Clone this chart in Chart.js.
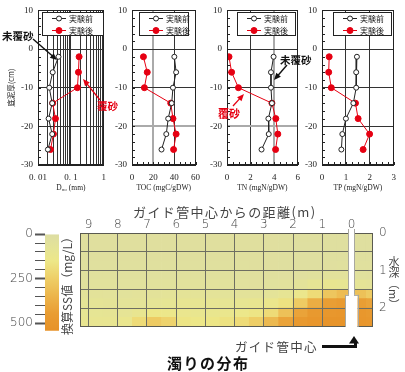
<!DOCTYPE html>
<html lang="ja"><head><meta charset="utf-8">
<script src="https://cdn.jsdelivr.net/npm/chart.js@4.4.1/dist/chart.umd.min.js"></script>
<style>
html,body{margin:0;padding:0;background:#fff}
body{position:relative;width:405px;height:372px;overflow:hidden;font-family:"Noto Sans CJK JP",sans-serif}
canvas{position:absolute;top:0}
.t{position:absolute;white-space:nowrap;line-height:1}
</style></head><body>
<canvas id="p1" width="113" height="198" style="left:0px"></canvas>
<canvas id="p2" width="101" height="198" style="left:106px"></canvas>
<canvas id="p3" width="106" height="198" style="left:201px"></canvas>
<canvas id="p4" width="103" height="198" style="left:300px"></canvas>
<canvas id="cb" width="70" height="115" style="left:0px;top:225px"></canvas>
<canvas id="hm" width="335" height="145" style="left:70px;top:195px"></canvas>
<svg id="ov" width="405" height="372" style="position:absolute;left:0;top:0;pointer-events:none"></svg>

<div class="t" style="left:2px;top:31px;font-size:10.5px;font-weight:bold;color:#111">未覆砂</div>
<div class="t" style="left:97px;top:101px;font-size:10.5px;font-weight:bold;color:#e60012">覆砂</div>
<div class="t" style="left:280px;top:55px;font-size:10.5px;font-weight:bold;color:#111">未覆砂</div>
<div class="t" style="left:218px;top:108px;font-size:11px;font-weight:bold;color:#e60012">覆砂</div>

<div class="t" style="left:133px;top:205px;font-size:13px;color:#444;letter-spacing:1.4px">ガイド管中心からの距離(m)</div>
<div class="t" style="left:388px;top:256px;font-size:11px;color:#444;writing-mode:vertical-rl">水深（m）</div>
<div class="t" style="left:12px;top:277px;width:110px;text-align:center;font-size:12px;color:#444;transform:rotate(-90deg);transform-origin:55px 6px;">換算SS値（mg/L）</div>
<div class="t" style="left:235px;top:341px;font-size:12.5px;color:#444;letter-spacing:1.3px">ガイド管中心</div>
<div class="t" style="left:167px;top:355px;font-size:15px;font-weight:bold;color:#111;letter-spacing:1.5px">濁りの分布</div>

<script>
// ---------- data: sediment profiles ----------
const depths = [-2, -6, -10, -14, -18, -22, -26];
const seriesLabels = ['実験前', '実験後'];
const d50Before = [0.042, 0.028, 0.022, 0.027, 0.021, 0.027, 0.020];
const d50After  = [0.178, 0.170, 0.158, 0.028, 0.034, 0.0295, 0.024];
const tocBefore = [40.0, 41.7, 38.7, 37.5, 34.2, 32.4, 27.9];
const tocAfter  = [10.8, 14.4, 11.7, 36.6, 38.7, 41.7, 39.3];
const tnBefore  = [3.95, 3.73, 3.73, 3.81, 3.51, 3.54, 2.93];
const tnAfter   = [0.17, 0.39, 0.97, 3.81, 4.14, 4.31, 4.12];
const tpBefore  = [1.46, 1.43, 1.43, 1.31, 1.00, 0.85, 0.81];
const tpAfter   = [0.30, 0.28, 0.39, 1.40, 1.51, 1.99, 1.72];

const depthTicks = [10, 0, -10, -20, -30];
const d50Ticks = [0.01,0.02,0.03,0.04,0.05,0.06,0.07,0.08,0.09,0.1,0.2,0.3,0.4,0.5,0.6,0.7,0.8,0.9,1];
const d50TickLabels = {0.01: '0. 01', 0.1: '0. 1', 1: '1'};
const tocTicks = [0, 20, 40, 60];
const tnTicks = [0, 2, 4, 6];
const tpTicks = [0, 1, 2, 3];
const xTitles = ['D₅₀ (mm)', 'TOC (mgC/gDW)', 'TN (mgN/gDW)', 'TP (mgN/gDW)'];
const yTitle = '底泥厚(cm)';

// ---------- data: turbidity (SS) distribution ----------
const distTicks = [0,1,2,3,4,5,6,7,8,9];
const waterDepthGrid = [0,0.5,1,1.5,2,2.5];
const distCenters = [9.25,8.75,8.25,7.75,7.25,6.75,6.25,5.75,5.25,4.75,4.25,3.75,3.25,2.75,2.25,1.75,1.25,0.75,0.25,-0.25,-0.75];
const depthEdges = [0,0.25,0.5,0.75,1.0,1.25,1.5,1.75,2.0,2.25,2.5];
const ssGrid = [
  [28,28,28,28,28,28,28,28,28,28,28,28,28,26,24,22,22,24,24,22,22],
  [28,28,28,28,28,28,28,28,28,28,28,28,28,26,22,20,20,22,24,22,22],
  [28,28,28,28,28,28,28,28,28,28,28,28,28,26,22,18,18,22,24,24,24],
  [30,30,30,30,30,30,30,30,30,30,30,30,28,26,22,18,20,26,30,30,30],
  [34,34,34,32,32,32,32,34,34,34,34,32,30,28,26,26,34,50,50,40,36],
  [44,44,42,40,40,42,44,46,48,46,44,40,38,40,46,60,90,110,100,80,70],
  [60,60,56,52,55,60,66,72,74,70,64,60,62,70,90,130,200,280,320,300,260],
  [80,78,74,66,70,80,92,100,100,96,92,98,110,130,170,260,380,440,460,440,420],
  [96,92,90,86,110,150,140,120,116,118,126,140,160,200,300,420,480,500,510,500,480],
  [110,106,104,120,200,260,230,160,150,156,170,200,250,330,420,480,510,520,520,510,500]
];
const ssMax = 543;
const colorbarTicks = [0,50,100,150,200,250,300,350,400,450,500];
const colorbarLabels = {0:'0', 250:'250', 500:'500'};
const colorStopValues = [0, 80, 150, 250, 350, 450, 543];
const colorStopRGB = [[221,221,163],[229,228,150],[237,231,136],[238,206,102],[236,180,74],[233,156,50],[231,146,40]];
const pipe = {center: 0, narrowHalf: 0.09, wideHalf: 0.2, wideTop: 1.65};

const RED = '#e60012';
const DARK = '#222';

function ssColor(v) {
  if (v <= colorStopValues[0]) return 'rgb(' + colorStopRGB[0].join(',') + ')';
  for (let i = 1; i < colorStopValues.length; i++) {
    if (v <= colorStopValues[i]) {
      const t = (v - colorStopValues[i-1]) / (colorStopValues[i] - colorStopValues[i-1]);
      const a = colorStopRGB[i-1], b = colorStopRGB[i];
      return 'rgb(' + a.map((c, k) => Math.round(c + (b[k]-c)*t)).join(',') + ')';
    }
  }
  return 'rgb(' + colorStopRGB[colorStopRGB.length-1].join(',') + ')';
}

// ---------- plugins ----------
const framePlugin = { id: 'frame', afterDraw(chart, args, o) {
  if (!o || !o.color) return;
  const {ctx, chartArea: a} = chart;
  ctx.save(); ctx.strokeStyle = o.color; ctx.lineWidth = 1;
  ctx.strokeRect(Math.round(a.left) + 0.5, Math.round(a.top) + 0.5, Math.round(a.right - a.left) - 1, Math.round(a.bottom - a.top) - 1);
  ctx.restore();
}};

const minorTickPlugin = { id: 'minorTicks', beforeDatasetsDraw(chart, args, o) {
  if (!o) return;
  const {ctx, chartArea: a, scales} = chart;
  ctx.save(); ctx.strokeStyle = DARK; ctx.lineWidth = 1;
  ctx.beginPath();
  if (o.xStep) {
    for (let v = scales.x.min; v <= scales.x.max + 1e-9; v += o.xStep) {
      const px = Math.round(scales.x.getPixelForValue(v)) + 0.5;
      ctx.moveTo(px, a.bottom); ctx.lineTo(px, a.bottom - 3);
    }
  }
  if (o.yStep) {
    for (let v = scales.y.min; v <= scales.y.max + 1e-9; v += o.yStep) {
      const py = Math.round(scales.y.getPixelForValue(v)) + 0.5;
      ctx.moveTo(a.left, py); ctx.lineTo(a.left + 3, py);
    }
  }
  ctx.stroke(); ctx.restore();
}};

const boxLegendPlugin = { id: 'boxLegend', afterDraw(chart, args, o) {
  if (!o || !o.width) return;
  const {ctx, chartArea: a} = chart;
  const x = Math.round(a.right - o.offset - o.width), y = Math.round(a.top + 2), h = 23;
  ctx.save();
  ctx.fillStyle = '#fff'; ctx.fillRect(x, y, o.width, h);
  ctx.strokeStyle = DARK; ctx.lineWidth = 1; ctx.strokeRect(x + 0.5, y + 0.5, o.width - 1, h);
  chart.data.datasets.forEach((ds, i) => {
    const cy = y + 6.5 + i * 12;
    ctx.strokeStyle = ds.borderColor; ctx.lineWidth = 1;
    ctx.beginPath(); ctx.moveTo(x + 10, cy); ctx.lineTo(x + 24, cy); ctx.stroke();
    ctx.beginPath(); ctx.arc(x + 17, cy, ds.pointRadius, 0, Math.PI * 2);
    ctx.fillStyle = ds.pointBackgroundColor; ctx.fill();
    ctx.strokeStyle = ds.pointBorderColor; ctx.stroke();
    ctx.fillStyle = DARK; ctx.font = '8px "Noto Sans CJK JP"'; ctx.textBaseline = 'middle';
    ctx.fillText(ds.label, x + 27, cy + 0.5);
  });
  ctx.restore();
}};

Chart.defaults.font.family = '"Liberation Serif", serif';
Chart.defaults.color = DARK;

function profileChart(id, cfg) {
  const mk = (vals) => depths.map((d, i) => ({x: vals[i], y: d}));
  const gridColor = (list) => (c) => (list || []).includes(c.tick && c.tick.value) ? '#aaaaaa' : '#333';
  const gridWidth = (list) => (c) => (list || []).includes(c.tick && c.tick.value) ? 2 : 1;
  return new Chart(document.getElementById(id), {
    type: 'scatter',
    data: { datasets: [
      { label: seriesLabels[0], data: mk(cfg.before), showLine: true, borderColor: DARK, borderWidth: 1,
        pointRadius: 2.5, pointBackgroundColor: '#fff', pointBorderColor: DARK, pointBorderWidth: 1 },
      { label: seriesLabels[1], data: mk(cfg.after), showLine: true, borderColor: RED, backgroundColor: RED, borderWidth: 1,
        pointRadius: 3, pointBackgroundColor: RED, pointBorderColor: RED, pointBorderWidth: 1 }
    ]},
    options: {
      responsive: false, animation: false, events: [],
      layout: { padding: { top: 9, right: cfg.padR, left: 0, bottom: 0 } },
      plugins: { legend: { display: false }, tooltip: { enabled: false },
        frame: { color: DARK },
        minorTicks: { xStep: cfg.xMinor, yStep: 2 },
        boxLegend: { width: cfg.legW, offset: cfg.legOff } },
      scales: {
        x: {
          type: cfg.log ? 'logarithmic' : 'linear',
          min: cfg.ticks[0], max: cfg.ticks[cfg.ticks.length - 1],
          afterBuildTicks: (s) => { s.ticks = cfg.ticks.map(v => ({value: v})); },
          afterFit: (s) => { s.height = 33; },
          ticks: { autoSkip: false, maxRotation: 0, padding: 7, font: { size: 9 },
            callback: cfg.log ? (v) => (d50TickLabels[v] || '') : (v) => String(v) },
          grid: { drawTicks: false, color: gridColor(cfg.grayX), lineWidth: gridWidth(cfg.grayX) },
          border: { color: DARK },
          title: { display: true, text: cfg.title, font: { size: 7.5 }, padding: { bottom: 5, top: 0 } }
        },
        y: {
          min: -30, max: 10,
          afterBuildTicks: (s) => { s.ticks = depthTicks.map(v => ({value: v})); },
          afterFit: (s) => { s.width = cfg.axisW; },
          ticks: { autoSkip: false, padding: 5, font: { size: 9 }, callback: (v) => String(v) },
          grid: { drawTicks: false, color: gridColor(cfg.grayY), lineWidth: gridWidth(cfg.grayY) },
          border: { color: DARK },
          title: { display: !!cfg.yTitle, text: cfg.yTitle || '', font: { size: 7.5, family: '"Noto Sans CJK JP"' }, padding: { top: 7 } }
        }
      }
    },
    plugins: [framePlugin, minorTickPlugin, boxLegendPlugin]
  });
}

profileChart('p1', { before: d50Before, after: d50After, log: true, ticks: d50Ticks, title: xTitles[0], yTitle: yTitle,
  axisW: 38, padR: 8, legW: 62, legOff: 0, xMinor: 0 });
profileChart('p2', { before: tocBefore, after: tocAfter, ticks: tocTicks, title: xTitles[1],
  axisW: 26, padR: 8, legW: 50, legOff: 7, xMinor: 5, grayX: [20], grayY: [-20] });
profileChart('p3', { before: tnBefore, after: tnAfter, ticks: tnTicks, title: xTitles[2],
  axisW: 26, padR: 8, legW: 59, legOff: 2, xMinor: 0.5, grayX: [4], grayY: [-20] });
profileChart('p4', { before: tpBefore, after: tpAfter, ticks: tpTicks, title: xTitles[3],
  axisW: 22, padR: 9, legW: 59, legOff: 2, xMinor: 0.25 });

// ---------- colour bar ----------
new Chart(document.getElementById('cb'), {
  type: 'bar',
  data: { labels: [''], datasets: [{ data: [[0, ssMax]], borderWidth: 0, categoryPercentage: 1, barPercentage: 1,
    backgroundColor: (c) => {
      const ch = c.chart; const ys = ch.scales.y;
      if (!ch.chartArea || !ys) return ssColor(0);
      const p0 = ys.getPixelForValue(0), p1 = ys.getPixelForValue(ssMax);
      const g = ch.ctx.createLinearGradient(0, p0, 0, p1);
      colorStopValues.forEach((v, i) => g.addColorStop(v / ssMax, ssColor(v)));
      return g;
    } }] },
  options: {
    responsive: false, animation: false, events: [],
    layout: { padding: { top: 8, right: 11, bottom: 7, left: 0 } },
    plugins: { legend: { display: false }, tooltip: { enabled: false } },
    scales: {
      x: { display: false },
      y: { reverse: true, min: 0, max: ssMax,
        afterBuildTicks: (s) => { s.ticks = colorbarTicks.map(v => ({value: v})); },
        afterFit: (s) => { s.width = 45; },
        ticks: { autoSkip: false, padding: 2, color: '#444', font: { family: '"DejaVu Sans"', size: 12, weight: 200 },
          callback: (v) => colorbarLabels[v] !== undefined ? colorbarLabels[v] : '' },
        grid: { drawOnChartArea: false, drawTicks: true, tickLength: 10,
          tickColor: '#555', tickWidth: (c) => (colorbarLabels[c.tick && c.tick.value] !== undefined ? 2 : 1) },
        border: { display: false } }
    }
  }
});

// ---------- turbidity heat map ----------
const cells = [], cellColors = [];
ssGrid.forEach((row, r) => row.forEach((v, c) => {
  cells.push({ x: distCenters[c], y: [depthEdges[r], depthEdges[r + 1]] });
  cellColors.push(ssColor(v));
}));

const pipePlugin = { id: 'pipe', afterDraw(chart) {
  const {ctx, scales: {x, y}, chartArea: a} = chart;
  const n0 = x.getPixelForValue(pipe.center + pipe.narrowHalf), n1 = x.getPixelForValue(pipe.center - pipe.narrowHalf);
  const w0 = x.getPixelForValue(pipe.center + pipe.wideHalf), w1 = x.getPixelForValue(pipe.center - pipe.wideHalf);
  const wt = y.getPixelForValue(pipe.wideTop);
  ctx.save();
  ctx.fillStyle = '#fff'; ctx.strokeStyle = '#a8a8a0'; ctx.lineWidth = 1;
  ctx.fillRect(n0, a.top - 4, n1 - n0, a.bottom - a.top + 4);
  ctx.beginPath();
  ctx.moveTo(Math.round(n0) - 0.5, a.top - 4); ctx.lineTo(Math.round(n0) - 0.5, wt);
  ctx.moveTo(Math.round(n1) + 0.5, a.top - 4); ctx.lineTo(Math.round(n1) + 0.5, wt);
  ctx.stroke();
  ctx.fillRect(w0, wt, w1 - w0, a.bottom - wt + 1);
  ctx.beginPath();
  ctx.moveTo(Math.round(w0) - 0.5, wt); ctx.lineTo(Math.round(w0) - 0.5, a.bottom);
  ctx.moveTo(Math.round(w1) + 0.5, wt); ctx.lineTo(Math.round(w1) + 0.5, a.bottom);
  ctx.moveTo(Math.round(w0) - 0.5, wt + 0.5); ctx.lineTo(Math.round(n0), wt + 0.5);
  ctx.moveTo(Math.round(n1), wt + 0.5); ctx.lineTo(Math.round(w1) + 0.5, wt + 0.5);
  ctx.stroke();
  ctx.restore();
}};

const hmTickFont = { family: '"DejaVu Sans"', size: 12, weight: 200 };
new Chart(document.getElementById('hm'), {
  type: 'bar',
  data: { datasets: [{ data: cells, backgroundColor: cellColors, borderWidth: 0,
    categoryPercentage: 1, barPercentage: 1, grouped: false }] },
  options: {
    responsive: false, animation: false, events: [],
    layout: { padding: { top: 0, right: 0, bottom: 7, left: 10 } },
    plugins: { legend: { display: false }, tooltip: { enabled: false }, frame: { color: '#5a5a50' } },
    scales: {
      x: { type: 'linear', position: 'top', reverse: true, min: -0.73, max: 9.29, offset: false,
        afterBuildTicks: (s) => { s.ticks = distTicks.map(v => ({value: v})); },
        afterFit: (s) => { s.height = 38; },
        ticks: { padding: 1, color: '#444', font: hmTickFont, autoSkip: false, maxRotation: 0, callback: (v) => String(v) },
        grid: { offset: false, drawTicks: false, color: '#6e6e62', lineWidth: 1, z: 1 },
        border: { display: false } },
      y: { type: 'linear', position: 'right', reverse: true, min: 0, max: 2.5, beginAtZero: false,
        afterBuildTicks: (s) => { s.ticks = waterDepthGrid.map(v => ({value: v})); },
        afterFit: (s) => { s.width = 32; },
        ticks: { autoSkip: false, padding: 6, color: '#444', font: hmTickFont, callback: (v) => Number.isInteger(v) ? String(v) : '' },
        grid: { drawTicks: false, color: '#6e6e62', lineWidth: 1, z: 1 },
        border: { display: false } }
    }
  },
  plugins: [framePlugin, pipePlugin]
});

// ---------- annotation arrows ----------
const svg = document.getElementById('ov');
const NS = 'http://www.w3.org/2000/svg';
function el(tag, attrs) { const e = document.createElementNS(NS, tag); for (const k in attrs) e.setAttribute(k, attrs[k]); svg.appendChild(e); return e; }
function arrow(x1, y1, x2, y2, color, w, hl, hw) {
  const dx = x2 - x1, dy = y2 - y1, L = Math.hypot(dx, dy), ux = dx / L, uy = dy / L;
  const bx = x2 - ux * hl, by = y2 - uy * hl;
  el('line', { x1, y1, x2: bx + ux, y2: by + uy, stroke: color, 'stroke-width': w });
  el('polygon', { points: `${x2},${y2} ${bx - uy * hw / 2},${by + ux * hw / 2} ${bx + uy * hw / 2},${by - ux * hw / 2}`, fill: color });
}
arrow(33, 39, 57, 60, '#111', 1.4, 7, 6);
arrow(100, 100, 83, 79, RED, 1.3, 7, 6);
arrow(287, 65, 274, 80, '#111', 1.4, 7, 6);
arrow(233, 106, 244, 94, RED, 1.3, 7, 6);
el('path', { d: 'M322,346.5 H355.5 V342', stroke: '#111', 'stroke-width': 3, fill: 'none' });
el('polygon', { points: '354,336 349,343.5 359,343.5', fill: '#111' });
</script>
</body></html>
